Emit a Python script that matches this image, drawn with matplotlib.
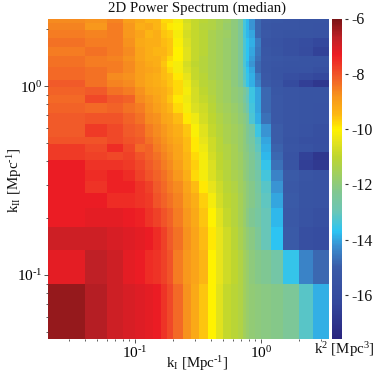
import numpy as np
import matplotlib
matplotlib.use("Agg")
import matplotlib.pyplot as plt
from matplotlib.colors import LinearSegmentedColormap
from matplotlib.ticker import FixedLocator, FixedFormatter, NullFormatter
from matplotlib.transforms import blended_transform_factory

plt.rcParams['font.family'] = ['Liberation Serif', 'DejaVu Serif']
plt.rcParams['mathtext.fontset'] = 'custom'
plt.rcParams['mathtext.rm'] = 'Liberation Serif'
plt.rcParams['mathtext.it'] = 'Liberation Serif'
plt.rcParams['mathtext.bf'] = 'Liberation Serif'
plt.rcParams['axes.unicode_minus'] = False

kperp_edges = [0.02, 0.04, 0.06, 0.08, 0.10, 0.12, 0.14, 0.16, 0.18, 0.20, 0.24, 0.28, 0.32, 0.38,
               0.44, 0.50, 0.58, 0.66, 0.72, 0.76, 0.80, 0.90, 1.0, 1.2, 1.5, 2.0, 2.6, 3.5]
kpar_edges = [2.28, 2.16, 1.98, 1.8, 1.62, 1.44, 1.35, 1.26, 1.17, 1.08, 0.99, 0.9, 0.81, 0.72, 0.63,
              0.54, 0.495, 0.45, 0.405, 0.36, 0.315, 0.27, 0.225, 0.18, 0.135, 0.09, 0.045]
log_power = [
 [-8.7,-8.8,-8.6,-9.0,-9.2,-9.4,-9.4,-9.8,-9.8,-10.2,-10.7,-10.9,-11.1,-11.3,-11.5,-11.7,-12.0,-12.4,-13.4,-13.8,-14.2,-14.8,-15.2,-15.3,-15.4,-15.5,-15.5],
 [-8.6,-8.9,-8.5,-8.9,-9.3,-9.2,-9.4,-9.7,-9.9,-10.1,-10.6,-10.9,-11.2,-11.3,-11.5,-11.8,-12.0,-12.4,-13.4,-13.8,-14.2,-14.8,-15.3,-15.4,-15.4,-15.5,-15.6],
 [-8.5,-8.6,-8.5,-8.9,-9.1,-9.4,-9.3,-9.6,-9.7,-10.2,-10.7,-10.9,-11.1,-11.4,-11.6,-11.7,-12.0,-12.4,-13.4,-13.8,-14.0,-14.8,-15.2,-15.4,-15.5,-15.5,-15.6],
 [-8.4,-8.5,-8.5,-8.8,-9.2,-9.3,-9.3,-9.5,-9.6,-10.1,-10.6,-10.9,-11.1,-11.4,-11.6,-11.8,-12.0,-12.4,-13.3,-13.7,-13.9,-14.5,-15.4,-15.6,-15.7,-15.9,-16.2],
 [-8.5,-8.4,-8.5,-8.7,-9.1,-9.3,-9.4,-9.4,-9.6,-10.0,-10.5,-10.9,-11.1,-11.4,-11.6,-11.8,-12.0,-12.4,-13.3,-13.7,-14.0,-14.6,-15.3,-15.5,-15.7,-16.0,-16.5],
 [-8.4,-8.5,-8.6,-8.8,-9.1,-9.3,-9.3,-9.5,-9.8,-10.0,-10.5,-10.9,-11.2,-11.4,-11.6,-11.8,-12.0,-12.4,-13.3,-13.7,-14.1,-14.7,-15.2,-15.3,-15.4,-15.5,-15.5],
 [-8.4,-8.5,-8.5,-8.7,-9.0,-9.2,-9.3,-9.6,-9.9,-10.2,-10.7,-11.0,-11.2,-11.4,-11.6,-11.8,-12.0,-12.4,-13.3,-13.8,-14.2,-14.8,-15.3,-15.4,-15.5,-15.5,-15.6],
 [-8.3,-8.4,-8.5,-8.7,-9.0,-9.1,-9.2,-9.5,-9.8,-10.2,-10.6,-10.9,-11.2,-11.4,-11.6,-11.8,-12.0,-12.4,-13.2,-13.7,-14.0,-14.8,-15.3,-15.5,-15.6,-15.6,-15.7],
 [-8.3,-8.4,-8.7,-8.8,-9.0,-9.2,-9.3,-9.5,-9.6,-9.9,-10.4,-10.9,-11.1,-11.4,-11.6,-11.8,-12.0,-12.4,-13.2,-13.6,-13.9,-14.5,-15.2,-15.5,-15.8,-16.0,-16.2],
 [-8.1,-8.4,-8.6,-8.7,-9.0,-9.2,-9.3,-9.4,-9.6,-9.8,-10.3,-10.8,-11.1,-11.3,-11.5,-11.7,-12.0,-12.3,-13.1,-13.6,-13.9,-14.4,-15.1,-15.4,-16.1,-16.6,-16.9],
 [-8.2,-8.1,-8.4,-8.5,-8.8,-9.1,-9.2,-9.3,-9.5,-9.8,-10.2,-10.7,-11.0,-11.3,-11.5,-11.7,-11.9,-12.1,-12.4,-12.9,-13.5,-14.0,-14.8,-15.3,-15.4,-15.5,-15.5],
 [-8.3,-7.9,-8.1,-8.2,-8.7,-8.9,-9.1,-9.3,-9.6,-9.9,-10.3,-10.7,-10.9,-11.2,-11.5,-11.7,-11.9,-12.1,-12.5,-13.0,-13.5,-14.0,-14.8,-15.2,-15.4,-15.5,-15.5],
 [-8.2,-8.3,-8.2,-8.4,-8.5,-8.8,-9.0,-9.2,-9.4,-9.8,-10.2,-10.6,-10.8,-11.1,-11.4,-11.6,-11.8,-12.0,-12.3,-12.8,-13.4,-14.0,-14.8,-15.2,-15.4,-15.5,-15.6],
 [-8.1,-8.0,-8.0,-8.2,-8.4,-8.7,-8.8,-9.1,-9.2,-9.5,-9.9,-10.3,-10.7,-11.0,-11.3,-11.5,-11.7,-11.9,-12.1,-12.4,-13.3,-13.9,-14.7,-15.2,-15.4,-15.5,-15.6],
 [-8.1,-7.7,-7.9,-8.1,-8.2,-8.5,-8.7,-8.9,-9.1,-9.3,-9.6,-10.1,-10.5,-10.9,-11.2,-11.4,-11.6,-11.8,-12.0,-12.3,-12.7,-13.5,-14.2,-15.0,-15.4,-15.6,-15.7],
 [-8.0,-8.0,-7.9,-8.0,-8.1,-8.4,-8.6,-8.8,-9.0,-9.2,-9.5,-9.9,-10.4,-10.8,-11.1,-11.4,-11.6,-11.8,-12.0,-12.3,-12.6,-13.2,-14.0,-15.0,-15.5,-15.7,-15.8],
 [-7.7,-7.9,-7.5,-7.9,-8.3,-8.2,-8.5,-8.7,-8.9,-9.1,-9.5,-9.9,-10.3,-10.8,-11.1,-11.3,-11.5,-11.8,-12.0,-12.2,-12.5,-13.1,-13.9,-14.9,-15.4,-15.6,-15.7],
 [-7.7,-7.8,-7.9,-7.8,-8.0,-8.2,-8.4,-8.6,-8.8,-9.1,-9.4,-9.8,-10.2,-10.7,-11.0,-11.3,-11.5,-11.7,-12.0,-12.1,-12.4,-12.9,-13.8,-14.8,-15.6,-16.5,-16.9],
 [-7.3,-7.6,-7.6,-7.7,-7.9,-8.1,-8.3,-8.5,-8.7,-9.0,-9.4,-9.7,-10.2,-10.6,-11.0,-11.2,-11.5,-11.7,-11.9,-12.1,-12.3,-12.8,-13.6,-14.7,-15.5,-16.6,-16.8],
 [-7.3,-7.5,-7.4,-7.5,-7.8,-8.0,-8.2,-8.4,-8.6,-8.9,-9.3,-9.8,-10.2,-10.6,-10.9,-11.2,-11.4,-11.6,-11.9,-12.1,-12.3,-12.7,-13.4,-14.4,-15.1,-15.4,-15.6],
 [-7.3,-7.6,-7.4,-7.4,-7.6,-7.8,-8.1,-8.3,-8.5,-8.7,-9.1,-9.5,-9.9,-10.4,-10.8,-11.1,-11.3,-11.6,-11.8,-12.0,-12.2,-12.6,-13.2,-14.2,-15.2,-15.5,-15.6],
 [-7.3,-7.3,-7.5,-7.5,-7.6,-7.7,-8.0,-8.2,-8.4,-8.6,-9.0,-9.3,-9.7,-10.2,-10.7,-11.0,-11.2,-11.5,-11.8,-12.0,-12.2,-12.5,-13.1,-14.0,-15.1,-15.5,-15.6],
 [-7.3,-7.2,-7.2,-7.3,-7.4,-7.6,-7.8,-8.0,-8.2,-8.5,-8.9,-9.2,-9.6,-10.0,-10.5,-10.9,-11.2,-11.5,-11.8,-12.1,-12.3,-12.6,-13.0,-13.8,-15.2,-15.6,-15.7],
 [-6.9,-6.9,-7.0,-7.1,-7.2,-7.3,-7.5,-7.8,-8.1,-8.4,-8.8,-9.1,-9.5,-9.9,-10.4,-10.8,-11.1,-11.4,-11.7,-11.9,-12.1,-12.4,-13.0,-13.7,-15.1,-15.8,-15.9],
 [-7.2,-6.7,-6.9,-7.2,-7.3,-7.5,-7.6,-7.8,-8.0,-8.5,-8.9,-9.1,-9.4,-10.0,-10.4,-10.8,-11.0,-11.3,-11.6,-11.8,-12.0,-12.2,-12.3,-12.7,-13.6,-14.4,-14.8],
 [-6.3,-6.6,-6.9,-7.0,-7.1,-7.2,-7.3,-7.6,-7.9,-8.3,-8.8,-9.2,-9.6,-10.0,-10.5,-10.9,-11.1,-11.3,-11.6,-11.8,-11.9,-12.0,-12.1,-12.2,-12.4,-13.2,-13.9],
]
x_major = [0.1, 1.0]
x_major_labels = [r'$10^{\text{-}1}$', r'$10^{0}$']
y_major = [0.1, 1.0]
y_major_labels = [r'$10^{\text{-}1}$', r'$10^{0}$']
x_minor = [0.03, 0.04, 0.05, 0.06, 0.07, 0.08, 0.09, 0.2, 0.3, 0.4, 0.5, 0.6, 0.7, 0.8, 0.9, 2.0, 3.0]
y_minor = [0.05, 0.06, 0.07, 0.08, 0.09, 0.2, 0.3, 0.4, 0.5, 0.6, 0.7, 0.8, 0.9, 2.0]
cbar_ticks = [-6, -8, -10, -12, -14, -16]

cmap = LinearSegmentedColormap.from_list('spec', [
    (0.00, '#29247e'), (0.11, '#34479c'), (0.224, '#3b5ca8'), (0.29, '#3a8fd0'), (0.336, '#2cc4f3'),
    (0.40, '#6cc6b4'), (0.457, '#80c792'), (0.569, '#bed62f'), (0.62, '#e8e41a'), (0.655, '#fff200'),
    (0.70, '#fdb913'), (0.759, '#f7941d'), (0.82, '#f15a29'), (0.888, '#ed1c24'), (0.94, '#c02026'),
    (1.00, '#7a1416')])

W, H = 378, 374
fig = plt.figure(figsize=(W / 100, H / 100), dpi=100)
ax = fig.add_axes([48 / W, 1 - 339 / H, 281 / W, 320.5 / H])
vmin, vmax = -17.6, -6.0
mesh = ax.pcolormesh(kperp_edges, kpar_edges, np.array(log_power), cmap=cmap, vmin=vmin, vmax=vmax,
                     shading='flat', rasterized=True, linewidth=0)
ax.set_xscale('log')
ax.set_yscale('log')
ax.set_xlim(0.0204, 3.47)
ax.set_ylim(0.0458, 2.28)
for s in ax.spines.values():
    s.set_visible(False)
ax.xaxis.set_major_locator(FixedLocator(x_major))
ax.xaxis.set_major_formatter(FixedFormatter(x_major_labels))
ax.xaxis.set_minor_locator(FixedLocator(x_minor))
ax.xaxis.set_minor_formatter(NullFormatter())
ax.yaxis.set_major_locator(FixedLocator(y_major))
ax.yaxis.set_major_formatter(FixedFormatter(y_major_labels))
ax.yaxis.set_minor_locator(FixedLocator(y_minor))
ax.yaxis.set_minor_formatter(NullFormatter())
ax.tick_params(which='major', length=2.6, width=0.6, color='#333333', labelsize=11, pad=1.5)
ax.tick_params(which='minor', length=1.5, width=0.6, color='#444444')

fig.text(197 / W, 1 - 8.5 / H, '2D Power Spectrum (median)', ha='center', va='center', fontsize=10.7, color='#111111')
fig.text(197 / W, 1 - 364 / H, r'k$_{\mathrm{I}}$ [Mpc$^{\text{-}1}$]', ha='center', va='center', fontsize=10.7, color='#111111')
fig.text(15 / W, 1 - 180 / H, r'k$_{\mathrm{II}}$ [Mpc$^{\text{-}1}$]', ha='center', va='center', rotation=90, fontsize=10.7, color='#111111')
fig.text(344 / W, 1 - 350 / H, r'k$^{2}$ [Mpc$^{3}$]', ha='center', va='center', fontsize=10.7, color='#111111')

cax = fig.add_axes([332 / W, 1 - 339 / H, 10 / W, 320.5 / H])
cb = fig.colorbar(mesh, cax=cax)
cb.outline.set_visible(False)
cb.set_ticks(cbar_ticks)
cb.ax.tick_params(length=0, pad=7, labelsize=11.5, labelcolor='#111111')
trans = blended_transform_factory(cax.transAxes, cax.transData)
cax.hlines(cbar_ticks, 1.3, 1.65, transform=trans, colors='#333333', linewidth=0.8, clip_on=False)

fig.savefig('out.png', dpi=100)
